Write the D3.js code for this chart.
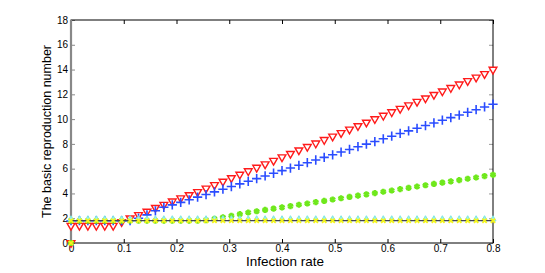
<!DOCTYPE html>
<html>
<head>
<meta charset="utf-8">
<script src="https://cdn.jsdelivr.net/npm/d3@7"></script>
<style>
  body { margin: 0; background: #fff; }
  svg text { font-family: "Liberation Sans", Arial, sans-serif; }
</style>
</head>
<body>
<div id="chart"></div>
<script>
// infection rate grid
const rates = [0, 0.016, 0.032, 0.048, 0.064, 0.08, 0.096, 0.112, 0.128, 0.144,
  0.16, 0.176, 0.192, 0.208, 0.224, 0.24, 0.256, 0.272, 0.288, 0.304,
  0.32, 0.336, 0.352, 0.368, 0.384, 0.4, 0.416, 0.432, 0.448, 0.464,
  0.48, 0.496, 0.512, 0.528, 0.544, 0.56, 0.576, 0.592, 0.608, 0.624,
  0.64, 0.656, 0.672, 0.688, 0.704, 0.72, 0.736, 0.752, 0.768, 0.784, 0.8];

const redR0 = [1.4, 1.4, 1.4, 1.4, 1.4, 1.4, 1.7, 2.0, 2.27, 2.54,
  2.85, 3.1, 3.37, 3.62, 3.88, 4.13, 4.41, 4.69, 4.97, 5.25,
  5.53, 5.81, 6.09, 6.37, 6.65, 6.93, 7.21, 7.49, 7.77, 8.05,
  8.33, 8.61, 8.89, 9.17, 9.45, 9.73, 10.01, 10.29, 10.57, 10.85,
  11.13, 11.41, 11.69, 11.97, 12.25, 12.53, 12.81, 13.09, 13.37, 13.65, 14.0];

const blueR0 = [1.8, 1.8, 1.8, 1.8, 1.8, 1.8, 1.8, 1.8, 2.0, 2.27,
  2.6, 2.88, 3.08, 3.28, 3.49, 3.7, 3.91, 4.13, 4.34, 4.56,
  4.77, 4.98, 5.2, 5.41, 5.63, 5.84, 6.05, 6.27, 6.48, 6.7,
  6.91, 7.12, 7.34, 7.55, 7.77, 7.98, 8.19, 8.41, 8.62, 8.84,
  9.05, 9.26, 9.48, 9.69, 9.91, 10.12, 10.33, 10.55, 10.76, 10.98, 11.2];

const greenR0 = [1.8, 1.8, 1.8, 1.8, 1.8, 1.8, 1.8, 1.8, 1.8, 1.8,
  1.8, 1.8, 1.8, 1.8, 1.8, 1.8, 1.85, 1.95, 2.08, 2.2,
  2.33, 2.46, 2.56, 2.67, 2.77, 2.88, 2.98, 3.09, 3.19, 3.3,
  3.4, 3.51, 3.61, 3.72, 3.82, 3.93, 4.03, 4.14, 4.24, 4.35,
  4.45, 4.56, 4.66, 4.77, 4.87, 4.98, 5.08, 5.19, 5.29, 5.4, 5.5];

const cyanR0 = 1.92;
const yellowR0 = 1.8;
const thresholdR0 = 1.8;

const xTicks = [0, 0.1, 0.2, 0.3, 0.4, 0.5, 0.6, 0.7, 0.8];
const yTicks = [0, 2, 4, 6, 8, 10, 12, 14, 16, 18];

const width = 545, height = 273;
const margin = { left: 71, right: 52, top: 20, bottom: 30 };

const svg = d3.select('#chart')
  .append('svg')
  .attr('width', width)
  .attr('height', height);

const x = d3.scaleLinear().domain([0, 0.8]).range([margin.left, width - margin.right]);
const y = d3.scaleLinear().domain([0, 18]).range([height - margin.bottom, margin.top]);

const axisStyle = g => {
  g.selectAll('text').style('font-size', '10px').attr('fill', '#000');
  g.select('.domain').remove();
};

svg.append('g')
  .attr('transform', `translate(0,${y(0)})`)
  .call(d3.axisBottom(x).tickValues(xTicks).tickFormat(d3.format('')).tickSizeInner(-4).tickSizeOuter(0).tickPadding(2))
  .call(axisStyle);

svg.append('g')
  .attr('transform', `translate(0,${y(18)})`)
  .call(d3.axisTop(x).tickValues(xTicks).tickFormat('').tickSizeInner(-4).tickSizeOuter(0))
  .call(axisStyle);

svg.append('g')
  .attr('transform', `translate(${x(0)},0)`)
  .call(d3.axisLeft(y).tickValues(yTicks).tickSizeInner(-4).tickSizeOuter(0).tickPadding(3))
  .call(axisStyle)
  .selectAll('line').attr('stroke', '#888');

svg.append('g')
  .attr('transform', `translate(${x(0.8)},0)`)
  .call(d3.axisRight(y).tickValues(yTicks).tickFormat('').tickSizeInner(-4).tickSizeOuter(0))
  .call(axisStyle)
  .selectAll('line').attr('stroke', '#999');

svg.append('rect')
  .attr('x', x(0)).attr('y', y(18))
  .attr('width', x(0.8) - x(0)).attr('height', y(0) - y(18))
  .attr('fill', 'none').attr('stroke', '#000').attr('stroke-width', 1);

// left edge drawn in grey, thicker
svg.append('line')
  .attr('x1', x(0)).attr('x2', x(0))
  .attr('y1', y(18)).attr('y2', y(0))
  .attr('stroke', '#888').attr('stroke-width', 2.2);

function markers(cls, values, sym, size, stroke, fill, sw, rotate) {
  svg.append('g').selectAll('path.' + cls)
    .data(values)
    .enter()
    .append('path')
    .attr('class', cls)
    .attr('d', d3.symbol().type(sym).size(size))
    .attr('transform', (d, i) => `translate(${x(rates[i])},${y(d)})${rotate ? ' rotate(180)' : ''}`)
    .attr('fill', fill)
    .attr('stroke', stroke)
    .attr('stroke-width', sw);
}

markers('red', redR0, d3.symbolTriangle, 26, '#ff1a1a', '#fff', 1.4, true);
markers('blue', blueR0, d3.symbolPlus, 30, '#2a4cff', 'none', 1.6, false);
markers('green', greenR0, d3.symbolAsterisk, 26, '#6fe81c', 'none', 2.4, false);
markers('cyan', rates.map(() => cyanR0), d3.symbolTriangle, 16, '#7fe6e0', '#9ff0ea', 1, false);

// flat threshold line
svg.append('line')
  .attr('x1', x(0)).attr('x2', x(0.8))
  .attr('y1', y(thresholdR0)).attr('y2', y(thresholdR0))
  .attr('stroke', '#445').attr('stroke-width', 1.3);

markers('yellow', rates.map(() => yellowR0), d3.symbolTimes, 14, '#f5f51a', 'none', 1.8, false);

// starting point at the origin
svg.append('path')
  .attr('d', d3.symbol().type(d3.symbolTriangle).size(26))
  .attr('transform', `translate(${x(0)},${y(0)}) rotate(180)`)
  .attr('fill', 'none').attr('stroke', '#ff1a1a').attr('stroke-width', 1.4);
svg.append('path')
  .attr('d', d3.symbol().type(d3.symbolAsterisk).size(26))
  .attr('transform', `translate(${x(0)},${y(0)})`)
  .attr('fill', 'none').attr('stroke', '#6fe81c').attr('stroke-width', 2.4);
svg.append('path')
  .attr('d', d3.symbol().type(d3.symbolTimes).size(14))
  .attr('transform', `translate(${x(0)},${y(0)})`)
  .attr('fill', 'none').attr('stroke', '#f5f51a').attr('stroke-width', 1.8);

// axis titles
svg.append('text')
  .attr('x', 285)
  .attr('y', 266)
  .attr('text-anchor', 'middle')
  .style('font-size', '13.5px')
  .text('Infection rate');

svg.append('text')
  .attr('transform', `translate(51,${(y(0) + y(18)) / 2}) rotate(-90)`)
  .attr('text-anchor', 'middle')
  .style('font-size', '12.5px')
  .text('The basic reproduction number');
</script>
</body>
</html>
